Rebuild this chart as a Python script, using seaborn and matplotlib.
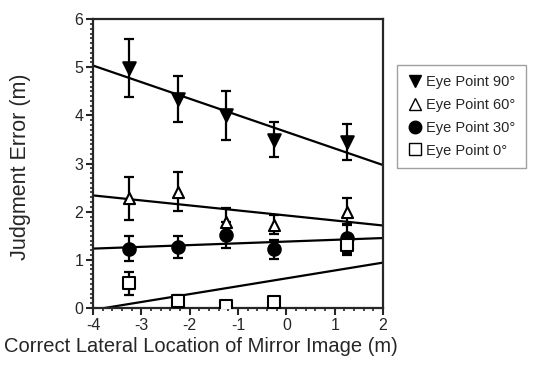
import numpy as np
import pandas as pd
import matplotlib
matplotlib.use("Agg")
import matplotlib.pyplot as plt
import seaborn as sns
from matplotlib.ticker import MultipleLocator
from matplotlib.lines import Line2D

# ---- data ----
x_pos = [-3.25, -2.25, -1.25, -0.25, 1.25]
labels = ["Eye Point 90°", "Eye Point 60°", "Eye Point 30°", "Eye Point 0°"]
err_90 = [4.98, 4.34, 4.00, 3.50, 3.45]
sd_90 = [0.60, 0.48, 0.50, 0.36, 0.37]
err_60 = [2.28, 2.42, 1.78, 1.73, 2.00]
sd_60 = [0.45, 0.40, 0.30, 0.20, 0.28]
err_30 = [1.23, 1.27, 1.52, 1.22, 1.45]
sd_30 = [0.26, 0.23, 0.27, 0.20, 0.30]
err_0 = [0.51, 0.15, 0.05, 0.13, 1.30]
sd_0 = [0.23, 0.12, 0.02, 0.05, 0.20]
x_ticks = [-4, -3, -2, -1, 0, 1, 2]
y_ticks = [0, 1, 2, 3, 4, 5, 6]

sns.set_style("ticks")
plt.rcParams['font.family'] = ['Liberation Sans', 'DejaVu Sans']
plt.rcParams['axes.unicode_minus'] = False

fig = plt.figure(figsize=(5.35, 3.68), dpi=100)
ax = fig.add_axes([0.174, 0.163, 0.542, 0.785])

styles = [
    dict(marker='v', mfc='black', ms=9),
    dict(marker='^', mfc='white', ms=8),
    dict(marker='o', mfc='black', ms=9),
    dict(marker='s', mfc='white', ms=8),
]
ys = [err_90, err_60, err_30, err_0]
sds = [sd_90, sd_60, sd_30, sd_0]

xline = np.array([x_ticks[0], x_ticks[-1]])
for lab, y, sd, st in zip(labels, ys, sds, styles):
    k, b = np.polyfit(x_pos, y, 1)
    df_line = pd.DataFrame({"x": xline, "y": k * xline + b})
    sns.lineplot(data=df_line, x="x", y="y", ax=ax, color='black', lw=1.6, zorder=2)
    ax.errorbar(x_pos, y, yerr=sd, fmt='none', ecolor='black', elinewidth=1.6,
                capsize=3.5, capthick=1.6, zorder=3)
    df = pd.DataFrame({"x": x_pos, "y": y})
    sns.scatterplot(data=df, x="x", y="y", ax=ax, marker=st['marker'],
                    s=st['ms'] ** 2, color=st['mfc'], edgecolor='black',
                    linewidth=1.5, zorder=4)

ax.set_xlim(x_ticks[0], x_ticks[-1])
ax.set_ylim(y_ticks[0], y_ticks[-1])
ax.set_xticks(x_ticks)
ax.set_yticks(y_ticks)
ax.xaxis.set_minor_locator(MultipleLocator(0.2))
ax.yaxis.set_minor_locator(MultipleLocator(0.1))
ax.tick_params(which='major', direction='out', length=5, width=1.5, labelsize=11.5, pad=2)
ax.tick_params(which='minor', direction='out', length=2.5, width=1.2)
for s in ax.spines.values():
    s.set_linewidth(1.6)
    s.set_visible(True)
ax.set_xlabel("Correct Lateral Location of Mirror Image (m)", fontsize=14.5)
ax.set_ylabel("Judgment Error (m)", fontsize=15.5)
ax.xaxis.set_label_coords(0.372, -0.10)
ax.yaxis.set_label_coords(-0.215, 0.49)

handles = [Line2D([], [], ls='none', marker=st['marker'], mfc=st['mfc'], mec='black',
                  ms=st['ms'], mew=1.0) for st in styles]
leg = fig.legend(handles, labels, loc='upper left', bbox_to_anchor=(0.729, 0.843),
                 frameon=True, fancybox=False, fontsize=10.5, handletextpad=0.3,
                 handlelength=1.0, borderpad=0.7, labelspacing=0.6)
leg.get_frame().set_edgecolor('#888888')
leg.get_frame().set_linewidth(1.0)

fig.savefig("out.png", dpi=100)
